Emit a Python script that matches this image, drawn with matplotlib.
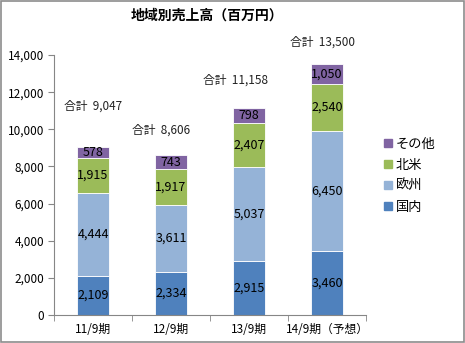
import matplotlib.pyplot as plt
import matplotlib.patches as mpatches
import numpy as np

plt.rcParams['font.family'] = ['Noto Sans CJK JP', 'DejaVu Sans']

periods = ["11/9期", "12/9期", "13/9期", "14/9期（予想）"]
domestic = [2109, 2334, 2915, 3460]
europe = [4444, 3611, 5037, 6450]
n_america = [1915, 1917, 2407, 2540]
other = [578, 743, 798, 1050]
totals = [9047, 8606, 11158, 13500]

series = [("国内", domestic, "#4F81BD"),
          ("欧州", europe, "#95B3D7"),
          ("北米", n_america, "#9BBB59"),
          ("その他", other, "#8064A2")]

fig = plt.figure(figsize=(4.65, 3.43), dpi=100)
ax = fig.add_axes([54 / 465, 28 / 343, 312 / 465, 260 / 343])

x = np.arange(len(periods))
bottom = np.zeros(len(periods))
for name, vals, col in series:
    ax.bar(x, vals, 0.41, bottom=bottom, color=col, edgecolor="white",
           linewidth=0.6, label=name)
    for xi, b, v in zip(x, bottom, vals):
        ax.text(xi, b + v / 2, f"{v:,}", ha="center", va="center",
                fontsize=9, color="black")
    bottom += vals

# 合計 labels sit above each bar at hand-tuned offsets
dx = [0.0, -0.13, -0.17, -0.06]
dy = [2200, 1350, 1500, 1200]
for xi, t, ox, oy in zip(x, totals, dx, dy):
    ax.text(xi + ox, t + oy, f"合計  {t:,}", ha="center", va="center",
            fontsize=8.5, color="#222222", clip_on=False)

ax.set_xlim(-0.5, 3.5)
ax.set_ylim(0, 14000)
ax.set_yticks(range(0, 14001, 2000))
ax.set_yticklabels([f"{v:,}" for v in range(0, 14001, 2000)], fontsize=8.5)
ax.set_xticks(x)
ax.set_xticklabels(periods, fontsize=8.5)
ax.set_xticks(np.arange(-0.5, 4.0, 1.0), minor=True)
ax.tick_params(axis="x", which="major", length=0, pad=6)
ax.tick_params(axis="x", which="minor", length=4, color="#868686")
ax.tick_params(axis="y", length=4, color="#868686", pad=3)
for s in ["top", "right"]:
    ax.spines[s].set_visible(False)
for s in ["left", "bottom"]:
    ax.spines[s].set_color("#868686")
    ax.spines[s].set_linewidth(0.8)

handles = [mpatches.Patch(color=col, label=name) for name, _, col in series[::-1]]
fig.legend(handles=handles, loc="upper left", bbox_to_anchor=(372 / 465, 1 - 126 / 343),
           frameon=False, fontsize=9.5, handlelength=0.6, handleheight=0.6,
           handletextpad=0.3, labelspacing=0.6)

fig.text(207 / 465, 1 - 16 / 343, "地域別売上高（百万円）", ha="center", va="center",
         fontsize=10, fontweight="bold")

fig.patches.append(mpatches.Rectangle((0.002, 0.003), 0.995, 0.993, transform=fig.transFigure,
                                      fill=False, edgecolor="#8c8c8c", linewidth=1.2))

fig.savefig("out.png", dpi=100)
